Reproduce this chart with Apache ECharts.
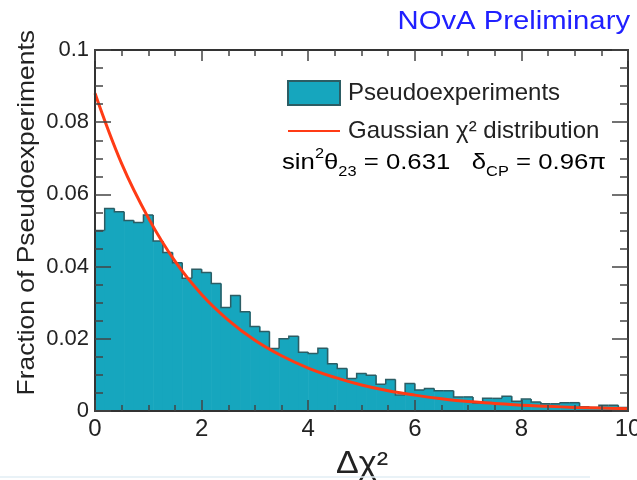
<!DOCTYPE html>
<html>
<head>
<meta charset="utf-8">
<script src="https://cdn.jsdelivr.net/npm/echarts@6/dist/echarts.min.js"></script>
<style>
  html, body { margin: 0; padding: 0; background: #fff; }
  #chart { width: 637px; height: 480px; }
</style>
</head>
<body>
<div id="chart"></div>
<script>
// histogram: fraction of pseudoexperiments per bin, 55 bins over 0..10
const histRange = [0, 10];
const histValues = [
  0.0500, 0.0561, 0.0552, 0.0528, 0.0522, 0.0543, 0.0471, 0.0439, 0.0411, 0.0368,
  0.0393, 0.0384, 0.0353, 0.0287, 0.0320, 0.0275, 0.0234, 0.0220, 0.0173, 0.0200,
  0.0207, 0.0163, 0.0159, 0.0174, 0.0131, 0.0118, 0.0090, 0.0104, 0.0099, 0.0074,
  0.0087, 0.0044, 0.0076, 0.0058, 0.0062, 0.0056, 0.0056, 0.0039, 0.0039, 0.0022,
  0.0035, 0.0035, 0.0041, 0.0027, 0.0033, 0.0025, 0.0020, 0.0020, 0.0023, 0.0023,
  0.0012, 0.0010, 0.0016, 0.0016, 0.0010
];
// gaussian chi2 curve
const curveX = [0, 0.5, 1, 1.5, 2, 2.5, 3, 3.5, 4, 4.5, 5, 5.5, 6, 6.5, 7, 7.5, 8, 8.5, 9, 9.5, 10];
const curveY = [0.088, 0.0685, 0.0535, 0.0415, 0.0323, 0.0252, 0.0196, 0.0153, 0.0119, 0.0093,
  0.0072, 0.0056, 0.0044, 0.0034, 0.0026, 0.0021, 0.0016, 0.0013, 0.0010, 0.0008, 0.0006];
const xTicks = { min: 0, max: 10, interval: 2 };
const yTicks = { min: 0, max: 0.1, interval: 0.02 };

const FONT = '"Liberation Sans", Arial, Helvetica, sans-serif';
const fillColor = '#16a6be';
const edgeColor = '#2c5d64';
const curveColor = '#ff3b15';

// 每个柱子: [起点, 终点, 值, 前一个值]
const binW = (histRange[1] - histRange[0]) / histValues.length;
const histData = histValues.map((v, i) => [
  histRange[0] + i * binW, histRange[0] + (i + 1) * binW, v, i > 0 ? histValues[i - 1] : 0
]);
const curveData = curveX.map((x, i) => [x, curveY[i]]);

let myChart = echarts.init(document.getElementById('chart'));

function axisX(pos, showLabel) {
  return {
    type: 'value', position: pos, min: xTicks.min, max: xTicks.max, interval: xTicks.interval,
    z: 10,
    axisLine: { show: true, onZero: false, lineStyle: { color: '#333', width: 2 } },
    axisTick: { show: true, inside: true, length: 11, lineStyle: { color: '#444', width: 1.5 } },
    minorTick: { show: true, splitNumber: 4, length: 6, lineStyle: { color: '#444', width: 1.5 } },
    splitLine: { show: false },
    axisLabel: { show: showLabel, color: '#222', fontSize: 24, fontFamily: FONT, margin: 6 }
  };
}
function axisY(pos, showLabel) {
  return {
    type: 'value', position: pos, min: yTicks.min, max: yTicks.max, interval: yTicks.interval,
    z: 10,
    axisLine: { show: true, onZero: false, lineStyle: { color: '#333', width: 2 } },
    axisTick: { show: true, inside: true, length: 16, lineStyle: { color: '#444', width: 1.5 } },
    minorTick: { show: true, splitNumber: 4, length: 8, lineStyle: { color: '#444', width: 1.5 } },
    splitLine: { show: false },
    axisLabel: { show: showLabel, color: '#222', fontSize: 22, fontFamily: FONT, margin: 6 }
  };
}

let option = {
  animation: false,
  backgroundColor: '#fff',
  grid: { left: 95, right: 9, top: 50, bottom: 69, containLabel: false, outerBoundsMode: 'none' },
  xAxis: [axisX('bottom', true), axisX('top', false)],
  yAxis: [axisY('left', true), axisY('right', false)],
  legend: {
    left: 287, top: 80, orient: 'vertical', padding: 0,
    itemWidth: 52, itemHeight: 24, itemGap: 13,
    textStyle: { fontSize: 24, color: '#222', fontFamily: FONT, padding: [0, 0, 0, 3] },
    data: [
      { name: 'Pseudoexperiments', icon: 'rect' },
      // 图例只显示线条, 隐藏中间的圆点
      { name: 'Gaussian χ² distribution', itemStyle: { opacity: 0 } }
    ]
  },
  series: [
    {
      name: 'Pseudoexperiments',
      type: 'custom',
      xAxisIndex: 0, yAxisIndex: 0,
      itemStyle: { color: fillColor, borderColor: edgeColor, borderWidth: 1.5 },
      data: histData,
      renderItem: function (params, api) {
        const base = api.coord([api.value(0), 0]);
        const top = api.coord([api.value(1), api.value(2)]);
        const prev = api.coord([api.value(0), api.value(3)]);
        return {
          type: 'group',
          children: [
            { type: 'rect',
              shape: { x: base[0], y: top[1], width: top[0] - base[0] + 0.6, height: base[1] - top[1] },
              style: { fill: fillColor } },
            { type: 'polyline',
              shape: { points: [prev, [base[0], top[1]], top] },
              style: { stroke: edgeColor, lineWidth: 1.5, fill: null } }
          ]
        };
      },
      z: 2
    },
    {
      name: 'Gaussian χ² distribution',
      type: 'line',
      xAxisIndex: 0, yAxisIndex: 0,
      data: curveData,
      smooth: 0.4,
      symbol: 'none',
      showSymbol: false,
      lineStyle: { color: curveColor, width: 3 },
      itemStyle: { color: curveColor },
      z: 3
    }
  ],
  graphic: [
    { type: 'text', x: 630, y: 22, scaleX: 1.17,
      style: { text: 'NOvA Preliminary', fill: '#2020ff', font: '25px ' + FONT,
        align: 'right', verticalAlign: 'middle' } },
    { type: 'text', x: 15, y: 30, rotation: Math.PI / 2, scaleX: 1.1,
      style: { text: 'Fraction of Pseudoexperiments', fill: '#222', font: '24px ' + FONT,
        align: 'right', verticalAlign: 'top' } },
    { type: 'text', x: 362, y: 464, scaleX: 1.1,
      style: { text: 'Δχ²', fill: '#222', font: '31px ' + FONT, align: 'center', verticalAlign: 'middle' } },
    { type: 'text', x: 282, y: 163, scaleX: 1.17,
      style: {
        text: '{a|sin}{sup|2}{a|θ}{sub|23}{a| = 0.631   δ}{sub|CP}{a| = 0.96π}',
        verticalAlign: 'middle',
        rich: {
          a: { fontSize: 22, fontFamily: FONT, color: '#222', lineHeight: 32, verticalAlign: 'middle' },
          sup: { fontSize: 14, fontFamily: FONT, color: '#222', lineHeight: 14, verticalAlign: 'top' },
          sub: { fontSize: 14, fontFamily: FONT, color: '#222', lineHeight: 14, verticalAlign: 'bottom' }
        }
      } },
    { type: 'line', shape: { x1: 0, y1: 477, x2: 590, y2: 477 },
      style: { stroke: '#e2eef5', lineWidth: 1.5 } }
  ]
};
myChart.setOption(option);
</script>
</body>
</html>
